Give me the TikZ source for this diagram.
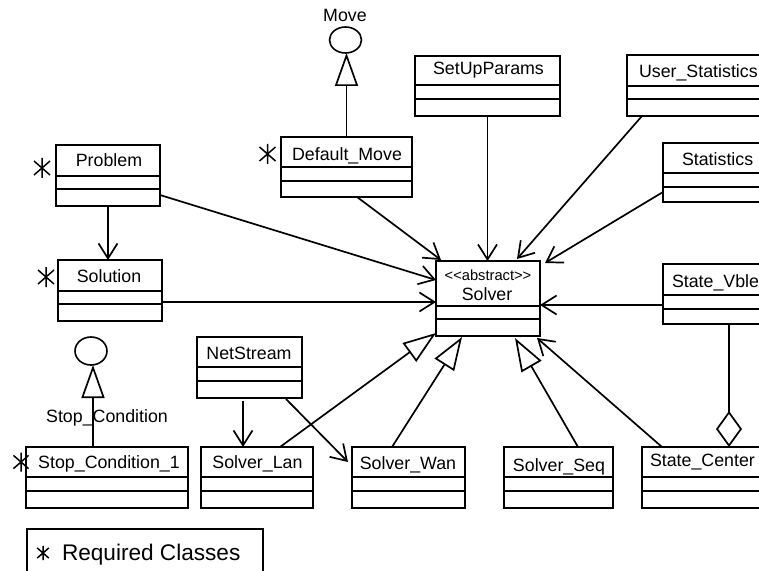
\documentclass[tikz,border=0pt]{standalone}
\usepackage{fontspec}
\newfontfamily\umlfont{Liberation Sans}
\usetikzlibrary{arrows.meta,calc,shapes.geometric}
\tikzset{
  classbox/.style={draw, line width=1.8bp, rectangle, inner sep=0pt, outer sep=0pt, anchor=north west},
  divider/.style={line width=2.4bp},
  cname/.style={inner sep=0pt, outer sep=0pt, anchor=base, font=\umlfont\fontsize{17.8bp}{21bp}\selectfont},
  cnamel/.style={cname, anchor=base west},
  conn/.style={line width=1.7bp},
  assoc/.style={conn, -{Straight Barb[length=15bp,width=19bp]}},
  gen/.style={conn, -{Triangle[open,length=33bp,width=23bp]}},
  aggr/.style={conn, -{Diamond[open,length=36bp,width=26bp]}},
  iface/.style={draw, ellipse, line width=1.6bp, minimum width=32bp, minimum height=26bp, inner sep=0pt, outer sep=0pt},
  reqmark/.pic={\draw[line width=1.5bp] (0,-10) -- (0,10) (-8,-7) -- (8,7) (-8,7) -- (8,-7);},
}
\newcommand{\umlclass}[7]{%
  \node[classbox, minimum width={(#4-#2)*1bp}, minimum height={(#5-#3)*1bp}] (#1) at (#2,#3) {};
  \draw[divider] (#2,#6) -- (#4,#6);
  \draw[divider] (#2,#7) -- (#4,#7);
}
\begin{document}
\begin{tikzpicture}[x=1bp,y=-1bp]
\useasboundingbox (0,0) rectangle (759,571);
\fill[white] (0,0) rectangle (759,571);
\clip (0,0) rectangle (759,571);

% class boxes
\umlclass{problem}{56}{145}{160}{206}{176}{189}
\node[cname] (problem-t) at (109,167) {Problem};
\umlclass{solution}{58}{260}{162}{321}{291}{304}
\node[cname] (solution-t) at (109,282) {Solution};
\umlclass{dm}{281}{137}{412}{197}{167}{181}
\node[cname] (dm-t) at (347,161) {Default\_Move};
\umlclass{setup}{415}{56}{560}{116}{85}{99}
\node[cname] (setup-t) at (488.5,75) {SetUpParams};
\umlclass{us}{627}{55}{775}{116}{86}{99}
\node[cnamel] (us-t) at (639,78) {User\_Statistics};
\umlclass{stat}{663}{143}{775}{202}{173}{187}
\node[cnamel] (stat-t) at (682,166) {Statistics};
\umlclass{vble}{663}{264}{775}{324}{295}{309}
\node[cnamel] (vble-t) at (672,287) {State\_Vble};
\umlclass{solver}{436}{261}{540}{336}{306}{319}
\node[cname, font=\umlfont\fontsize{14.7bp}{17bp}\selectfont] (solver-st) at (488,280) {<<abstract>>};
\node[cname] (solver-t) at (487,300.5) {Solver};
\umlclass{net}{197}{337}{302}{398}{367}{381}
\node[cname] (net-t) at (249,359) {NetStream};
\umlclass{stop1}{26}{447}{188}{508}{477}{491}
\node[cname] (stop1-t) at (109,468) {Stop\_Condition\_1};
\umlclass{lan}{201}{447}{313}{508}{477}{491}
\node[cname] (lan-t) at (257.5,468) {Solver\_Lan};
\umlclass{wan}{352}{447}{465}{508}{477}{491}
\node[cname] (wan-t) at (408,469) {Solver\_Wan};
\umlclass{seq}{504}{447}{613}{508}{477}{491}
\node[cname] (seq-t) at (559,471) {Solver\_Seq};
\umlclass{center}{642}{447}{775}{508}{477}{491}
\node[cnamel] (center-t) at (650,466) {State\_Center};

% interfaces
\node[iface] (move) at (345.5,40) {};
\node[cname] (move-t) at (345,22) {Move};
\node[iface, minimum height=28bp] (stopc) at (91,351) {};
\node[cname] (stopc-t) at (107,422) {Stop\_Condition};

% required marks
\pic at (42,168) {reqmark};
\pic at (46,277) {reqmark};
\pic at (267.5,154) {reqmark};
\pic[scale=0.95] at (21,462) {reqmark};

% legend
\node[classbox, minimum width=236bp, minimum height=70bp] (legend) at (27,529) {};
\pic[scale=0.72] at (43,553) {reqmark};
\node[cnamel, font=\umlfont\fontsize{22.6bp}{26bp}\selectfont] (legend-t) at (62,560) {Required Classes};

% connectors
\draw[assoc] (problem.south) -- (problem.south |- solution.north);
\draw[assoc] ($(problem.south east)+(0,-11)$) -- ($(solver.north west)+(0,19)$);
\coordinate (s1) at ($(solution.north east)+(0,42)$);
\draw[assoc] (s1) -- (s1 -| solver.west);
\draw[assoc] ($(dm.south west)+(76,0)$) -- ($(solver.north west)+(5,-1)$);
\draw[assoc] (setup.south) -- (setup.south |- solver.north);
\draw[assoc] ($(us.south west)+(15,0)$) -- ($(solver.north west)+(81,-2)$);
\draw[assoc] ($(stat.south west)+(0,-10)$) -- ($(solver.north east)+(5,2)$);
\coordinate (v1) at ($(vble.north west)+(0,41)$);
\draw[assoc] (v1) -- (v1 -| solver.east);
\coordinate (v2) at ($(vble.south west)+(66,0)$);
\draw[aggr] (v2) -- (v2 |- center.north);
\coordinate (n1) at ($(net.south west)+(46,3)$);
\draw[assoc] (n1) -- (n1 |- lan.north);
\draw[assoc] ($(net.south west)+(89,1)$) -- ($(wan.north west)+(-4,15)$);
\draw[gen] ($(lan.north west)+(79,0)$) -- ($(solver.south west)+(0,-3)$);
\draw[gen] ($(wan.north west)+(40,0)$) -- ($(solver.south west)+(26,1)$);
\draw[gen] ($(seq.north west)+(74,0)$) -- ($(solver.south west)+(79,2)$);
\draw[assoc] ($(center.north west)+(20,0)$) -- ($(solver.south east)+(-3,2)$);
\draw[gen] (dm.north) -- (dm.north |- move.south);
\coordinate (c1) at ($(stop1.north west)+(67,0)$);
\draw[gen] (c1) -- (c1 |- stopc.south);
\end{tikzpicture}
\end{document}
